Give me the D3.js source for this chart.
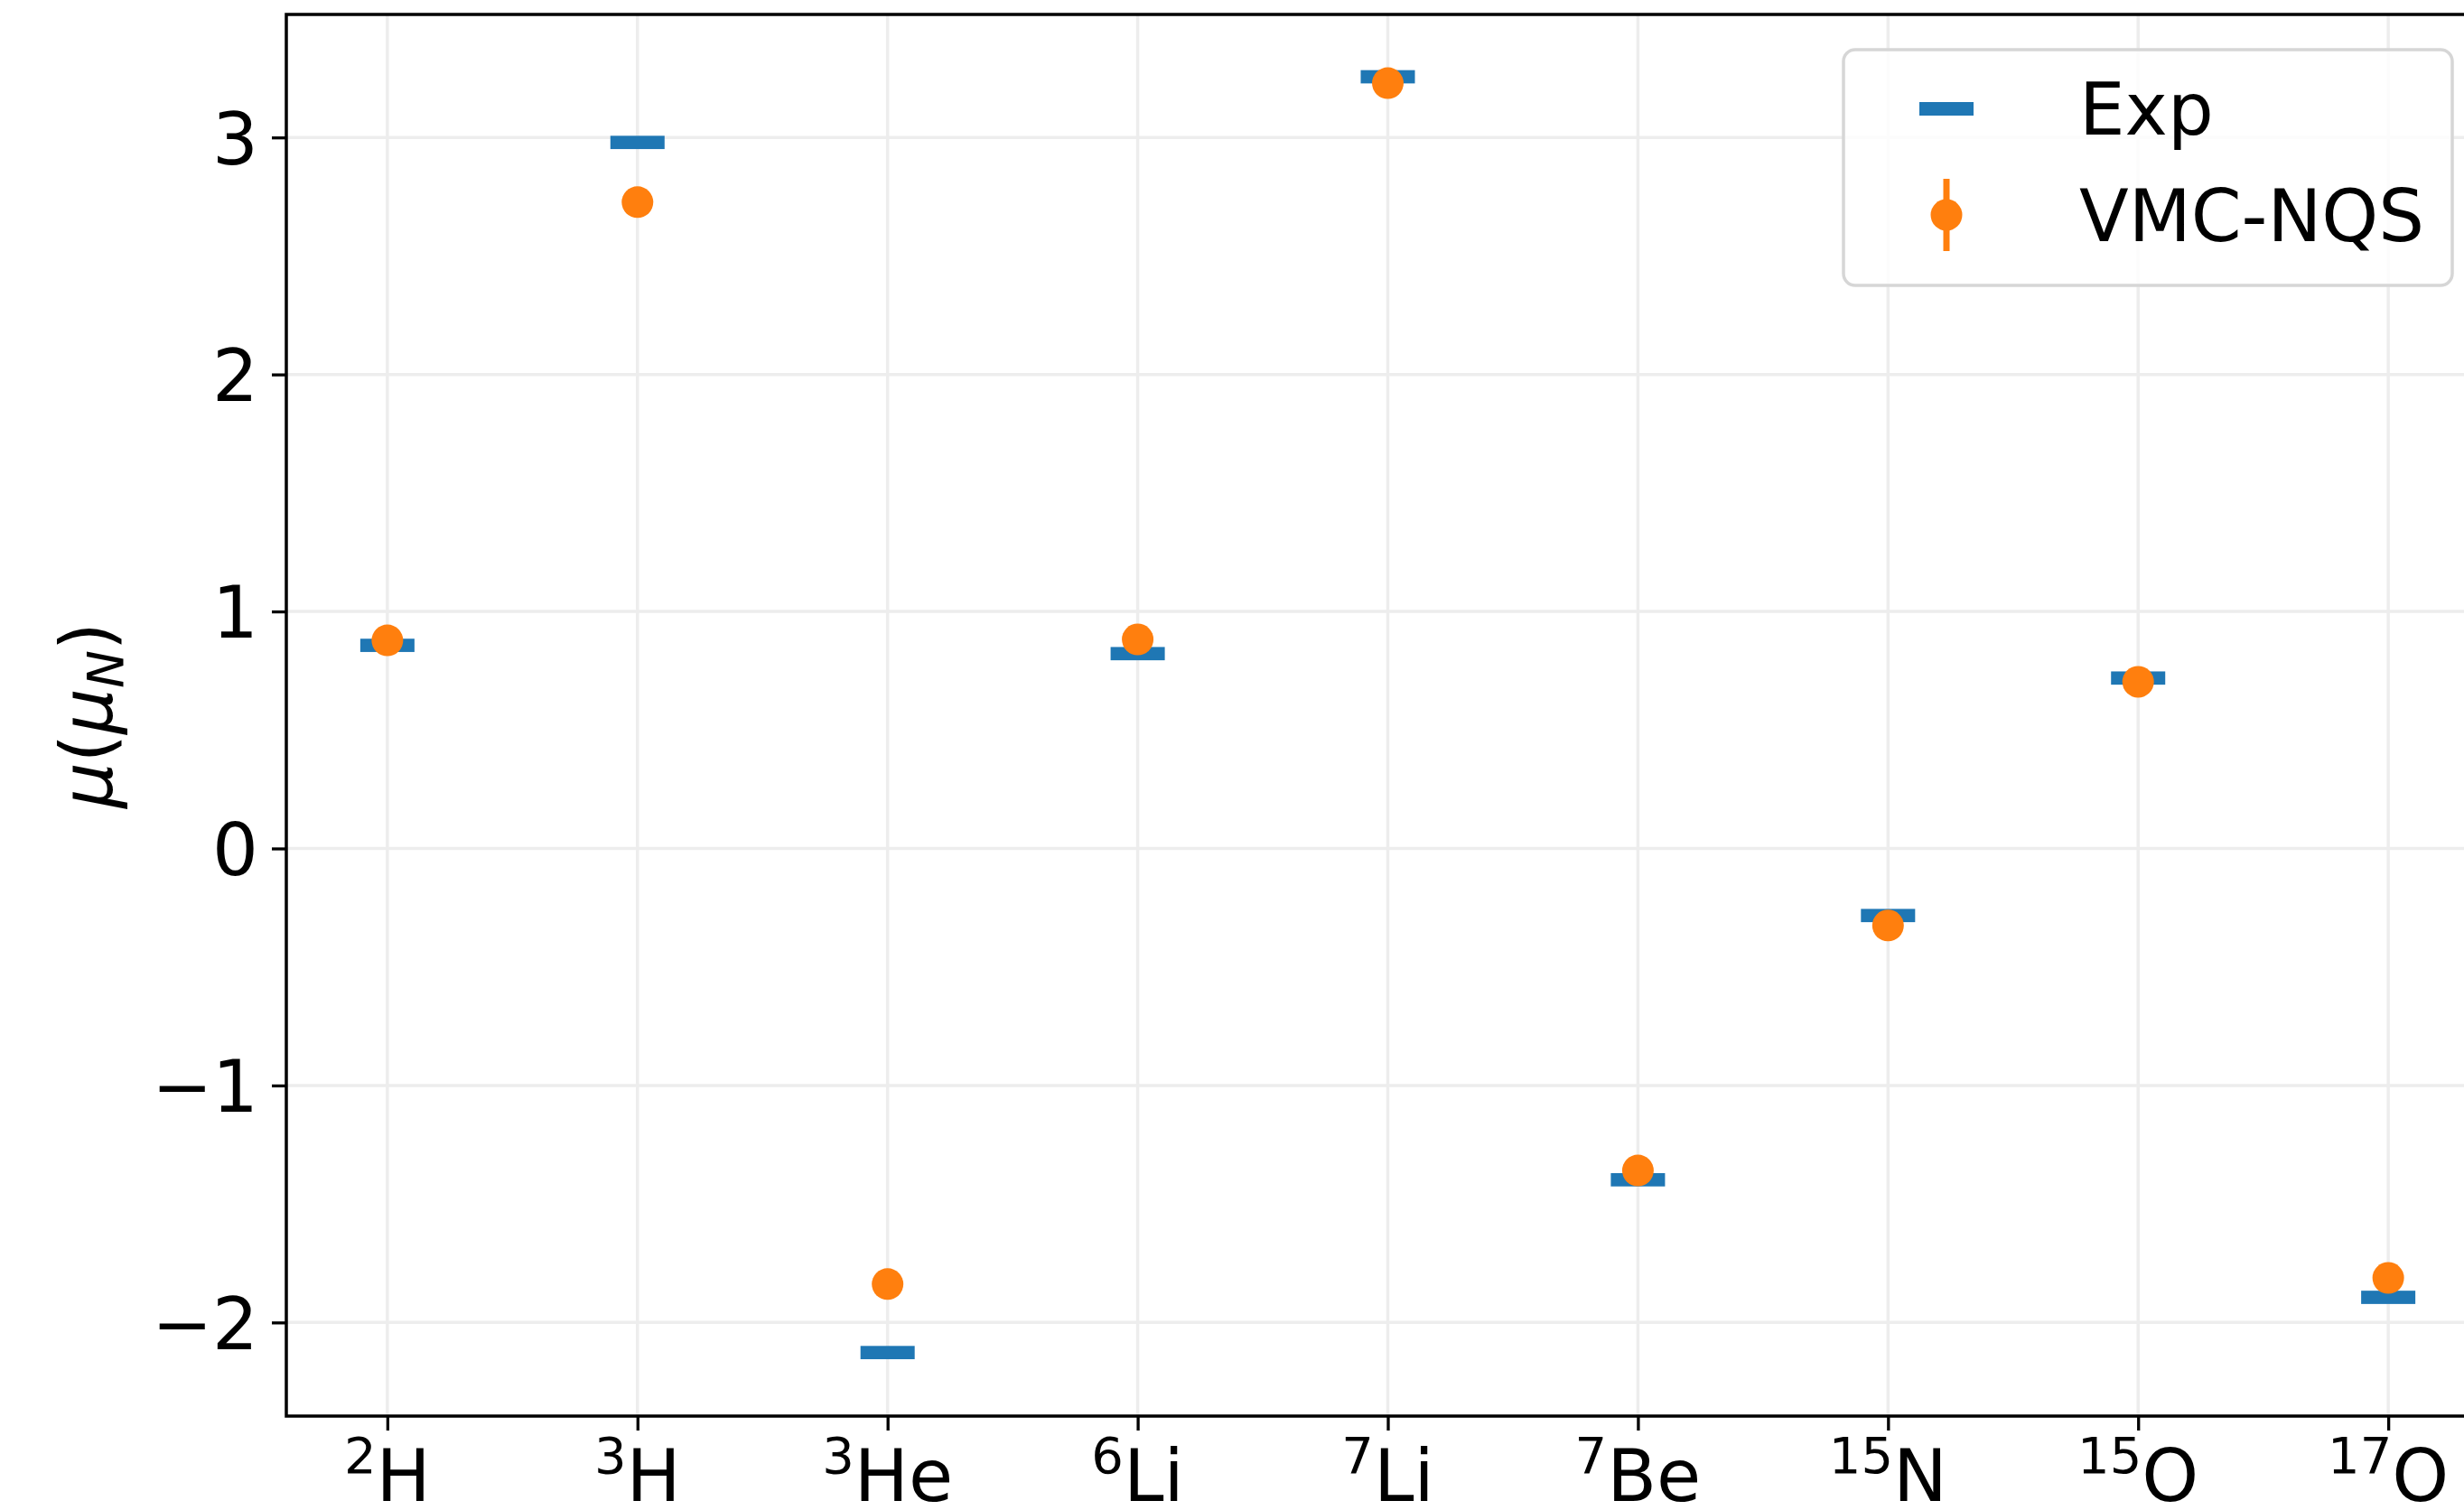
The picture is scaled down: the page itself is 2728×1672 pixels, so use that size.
<!DOCTYPE html>
<html>
<head>
<meta charset="utf-8">
<script src="https://cdn.jsdelivr.net/npm/d3@7"></script>
<style>
  html, body { margin: 0; padding: 0; background: #fff; }
  svg { display: block; font-family: 'DejaVu Sans', sans-serif; }
</style>
</head>
<body>
<div id="chart"></div>
<script>
// nuclei on the x axis: mass number + element
const massNumbers = ['2', '3', '3', '6', '7', '7', '15', '15', '17'];
const elements = ['H', 'H', 'He', 'Li', 'Li', 'Be', 'N', 'O', 'O'];

// magnetic moments in nuclear magnetons
const expValues = [0.857, 2.979, -2.127, 0.822, 3.256, -1.398, -0.283, 0.719, -1.894];
const vmcValues = [0.878, 2.727, -1.838, 0.882, 3.229, -1.359, -0.325, 0.703, -1.812];
const vmcErrors = [0.01, 0.02, 0.02, 0.02, 0.02, 0.02, 0.03, 0.03, 0.03];

const yTicks = [-2, -1, 0, 1, 2, 3];

const W = 2728, H = 1672;
const margin = { top: 16, left: 317, bottom: 1568, right: 2756 }; // right spine falls off the canvas
const fontSize = 80;
const blue = '#1f77b4', orange = '#ff7f0e';

const svg = d3.select('#chart').append('svg')
  .attr('width', W)
  .attr('height', H);

const x = d3.scaleLinear()
  .domain([-0.404, 8.404])
  .range([margin.left, margin.right]);

const y = d3.scaleLinear()
  .domain([-2.395, 3.519])
  .range([margin.bottom, margin.top]);

const idx = d3.range(elements.length);

// grid
const grid = svg.append('g').attr('stroke', '#ededed').attr('stroke-width', 3.5);
grid.selectAll('line.gx').data(idx).enter().append('line')
  .attr('x1', d => x(d)).attr('x2', d => x(d))
  .attr('y1', margin.top).attr('y2', margin.bottom);
grid.selectAll('line.gy').data(yTicks).enter().append('line')
  .attr('x1', margin.left).attr('x2', margin.right)
  .attr('y1', d => y(d)).attr('y2', d => y(d));

// axes
const yAxis = svg.append('g')
  .attr('transform', `translate(${margin.left},0)`)
  .call(d3.axisLeft(y).tickValues(yTicks).tickSize(16).tickPadding(15)
    .tickFormat(d => d < 0 ? '\u2212' + Math.abs(d) : String(d)));
yAxis.select('path.domain').remove();
yAxis.selectAll('.tick line').attr('stroke', '#000').attr('stroke-width', 3.3);
yAxis.selectAll('.tick text')
  .attr('font-family', 'DejaVu Sans')
  .attr('font-size', fontSize)
  .attr('fill', '#000')
  .attr('dy', '0.36em');

const xAxis = svg.append('g')
  .attr('transform', `translate(0,${margin.bottom})`)
  .call(d3.axisBottom(x).tickValues(idx).tickSize(16).tickFormat(''));
xAxis.select('path.domain').remove();
xAxis.selectAll('.tick line').attr('stroke', '#000').attr('stroke-width', 3.3);

// x tick labels with superscript mass number
const xl = svg.append('g').selectAll('text').data(idx).enter().append('text')
  .attr('x', d => x(d))
  .attr('y', 1662)
  .attr('text-anchor', 'middle')
  .attr('font-size', fontSize)
  .attr('fill', '#000');
xl.append('tspan').attr('font-size', 56).attr('dy', -31).text(d => massNumbers[d]);
xl.append('tspan').attr('font-size', fontSize).attr('dy', 31).text(d => elements[d]);

// spines
svg.append('rect')
  .attr('x', margin.left).attr('y', margin.top)
  .attr('width', margin.right - margin.left)
  .attr('height', margin.bottom - margin.top)
  .attr('fill', 'none').attr('stroke', '#000').attr('stroke-width', 3.5);

// y label  μ(μ_N)
const yl = svg.append('text')
  .attr('transform', `translate(124,${(margin.top + margin.bottom) / 2}) rotate(-90)`)
  .attr('text-anchor', 'middle')
  .attr('font-size', fontSize)
  .attr('fill', '#000');
yl.append('tspan').attr('font-style', 'italic').text('\u03bc');
yl.append('tspan').text('(');
yl.append('tspan').attr('font-style', 'italic').text('\u03bc');
yl.append('tspan').attr('font-style', 'italic').attr('font-size', 56).attr('dy', 12).text('N');
yl.append('tspan').attr('dy', -12).text(')');

// Exp markers: horizontal bars
svg.append('g').selectAll('rect').data(idx).enter().append('rect')
  .attr('x', d => x(d) - 30)
  .attr('y', d => y(expValues[d]) - 7.35)
  .attr('width', 60)
  .attr('height', 14.7)
  .attr('fill', blue);

// VMC-NQS error bars + points
const pts = svg.append('g');
pts.selectAll('line').data(idx).enter().append('line')
  .attr('x1', d => x(d)).attr('x2', d => x(d))
  .attr('y1', d => y(vmcValues[d] - vmcErrors[d]))
  .attr('y2', d => y(vmcValues[d] + vmcErrors[d]))
  .attr('stroke', orange).attr('stroke-width', 6.5);
pts.selectAll('circle').data(idx).enter().append('circle')
  .attr('cx', d => x(d))
  .attr('cy', d => y(vmcValues[d]))
  .attr('r', 17.5)
  .attr('fill', orange);

// legend
const lg = svg.append('g');
lg.append('rect')
  .attr('x', 2041).attr('y', 55)
  .attr('width', 674).attr('height', 261)
  .attr('rx', 13).attr('ry', 13)
  .attr('fill', '#fff').attr('fill-opacity', 0.8)
  .attr('stroke', '#d6d6d6').attr('stroke-width', 3.5);
lg.append('rect')
  .attr('x', 2125).attr('y', 113).attr('width', 60).attr('height', 15)
  .attr('fill', blue);
lg.append('line')
  .attr('x1', 2155).attr('x2', 2155).attr('y1', 198).attr('y2', 278)
  .attr('stroke', orange).attr('stroke-width', 7);
lg.append('circle').attr('cx', 2155).attr('cy', 238).attr('r', 17.5).attr('fill', orange);
lg.append('text').attr('x', 2302).attr('y', 149)
  .attr('font-size', fontSize).attr('fill', '#000').text('Exp');
lg.append('text').attr('x', 2302).attr('y', 267)
  .attr('font-size', fontSize).attr('fill', '#000').text('VMC-NQS');
</script>
</body>
</html>
